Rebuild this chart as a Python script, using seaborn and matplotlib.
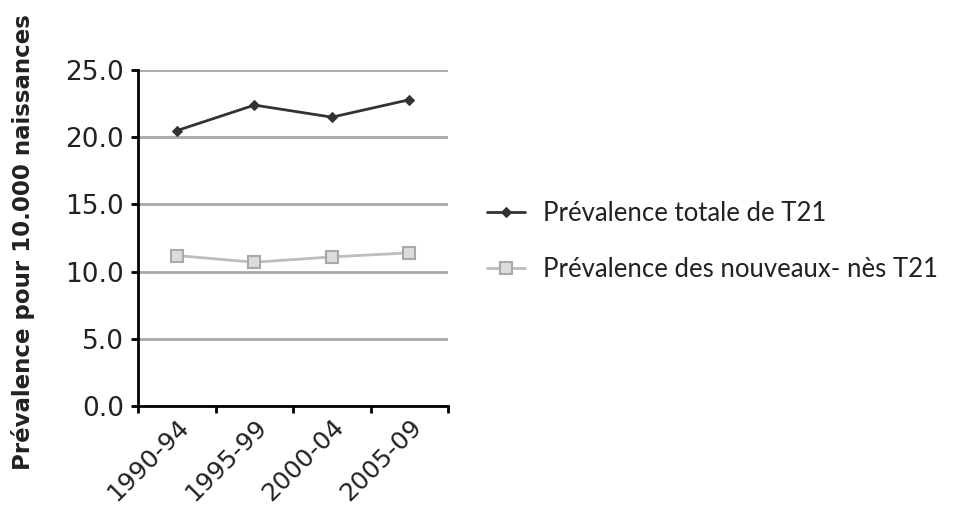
import pandas as pd
import seaborn as sns
import matplotlib.pyplot as plt
import matplotlib.transforms as mtransforms
from matplotlib.ticker import FixedLocator

sns.set_theme(style="white")
plt.rcParams["text.color"] = "#222222"
plt.rcParams["xtick.color"] = "black"
plt.rcParams["ytick.color"] = "black"
plt.rcParams["xtick.labelcolor"] = "#222222"
plt.rcParams["ytick.labelcolor"] = "#222222"

# data
periods = ["1990-94", "1995-99", "2000-04", "2005-09"]
total_t21 = [20.5, 22.4, 21.5, 22.8]
newborn_t21 = [11.2, 10.7, 11.1, 11.4]
label_total = "Prévalence totale de T21"
label_newborn = "Prévalence des nouveaux- nès T21"
y_ticks = [0.0, 5.0, 10.0, 15.0, 20.0, 25.0]

df = pd.DataFrame({"Période": periods, "total": total_t21,
                   "newborn": newborn_t21})

fig = plt.figure(figsize=(9.66, 5.12), dpi=100)
ax = fig.add_axes([0.143, 0.207, 0.321, 0.656])

sns.lineplot(data=df, x="Période", y="total", ax=ax, color="#333333",
             lw=2, marker="D", markersize=5, markeredgecolor="#333333",
             label=label_total)
sns.lineplot(data=df, x="Période", y="newborn", ax=ax, color="#bdbdbd",
             lw=2, marker="s", markersize=8, markerfacecolor="#dcdcdc",
             markeredgecolor="#a8a8a8", markeredgewidth=1.5,
             label=label_newborn)

ax.set_xlim(-0.5, len(periods) - 0.5)
ax.set_ylim(0, 25)
ax.set_yticks(y_ticks)
ax.set_yticklabels([f"{v:.1f}" for v in y_ticks], fontsize=19)
ax.yaxis.grid(True, color="#a8a8a8", lw=2)
ax.set_axisbelow(True)

ax.set_xticks(range(len(periods)))
ax.set_xticklabels(periods, rotation=45, ha="right", fontsize=18,
                   rotation_mode="anchor")
# nudge the slanted labels a bit right, like in the original
offset = mtransforms.ScaledTranslation(0.16, -0.04, fig.dpi_scale_trans)
for lbl in ax.get_xticklabels():
    lbl.set_transform(lbl.get_transform() + offset)
ax.xaxis.set_minor_locator(FixedLocator(
    [i - 0.5 for i in range(len(periods) + 1)]))
ax.tick_params(axis="x", which="major", length=0, pad=6)
ax.tick_params(axis="x", which="minor", length=5, width=2,
               color="black", direction="out", bottom=True)
ax.tick_params(axis="y", length=5, width=2, color="black",
               direction="out", left=True, pad=5)

for side in ["top", "right"]:
    ax.spines[side].set_visible(False)
for side in ["left", "bottom"]:
    ax.spines[side].set_color("black")
    ax.spines[side].set_linewidth(2)

ax.set_xlabel("")
ax.set_ylabel("")
fig.text(0.024, 0.527, "Prévalence pour 10.000 naissances", rotation=90,
         ha="center", va="center", fontsize=16.5, fontweight="bold")

leg = ax.legend(loc="center left", bbox_to_anchor=(1.05, 0.49),
                frameon=False, handlelength=1.5, handletextpad=0.7,
                labelspacing=1.2, prop={"family": "Lato", "size": 18.5})

plt.savefig("out.png", dpi=100)
